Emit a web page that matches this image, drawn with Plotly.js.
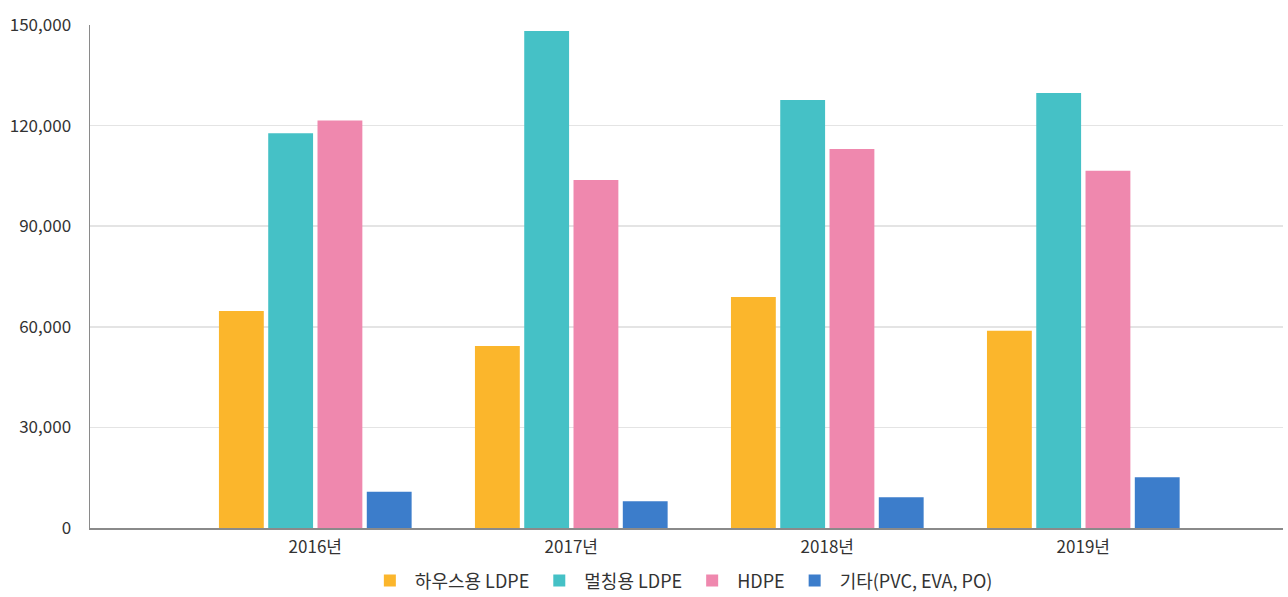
<!DOCTYPE html>
<html>
<head>
<meta charset="utf-8">
<script src="https://cdn.plot.ly/plotly-3.0.1.min.js"></script>
<style>html,body{margin:0;padding:0;background:#fff;}#chart{width:1288px;height:597px;}</style>
</head>
<body>
<div id="chart"></div>
<script>
const categories = ["2016년", "2017년", "2018년", "2019년"];
const seriesNames = ["하우스용 LDPE", "멀칭용 LDPE", "HDPE", "기타(PVC, EVA, PO)"];
const house = [64700, 54300, 68900, 58800];
const mulching = [117700, 148200, 127600, 129700];
const hdpe = [121500, 103800, 113000, 106500];
const others = [10800, 8000, 9200, 15100];
const yTicks = [0, 30000, 60000, 90000, 120000, 150000];
const yTickLabels = ["0", "30,000", "60,000", "90,000", "120,000", "150,000"];
const colors = ["#FBB62C", "#45C1C6", "#EF88AE", "#3C7DCB"];

const values = [house, mulching, hdpe, others];
const traces = values.map((v, i) => ({
  type: "bar",
  name: seriesNames[i],
  x: categories,
  y: v,
  marker: {color: colors[i]},
  hoverinfo: "x+y+name"
}));

const layout = {
  width: 1288,
  height: 597,
  margin: {l: 90, r: 5, t: 25, b: 69},
  paper_bgcolor: "#fff",
  plot_bgcolor: "#fff",
  font: {family: "Noto Sans CJK KR, Noto Sans, sans-serif", size: 17, color: "#333333"},
  barmode: "group",
  bargap: 0.23,
  bargroupgap: 0.09,
  showlegend: true,
  legend: {
    orientation: "h",
    xref: "container",
    yref: "container",
    x: 0.529, xanchor: "center",
    y: 0.027, yanchor: "middle",
    font: {size: 18, color: "#333333"},
    itemwidth: 40,
    traceorder: "normal"
  },
  xaxis: {
    type: "category",
    range: [-0.88, 3.78],
    automargin: false,
    showgrid: false,
    showline: true,
    linecolor: "#8a8a8a",
    linewidth: 1.5,
    ticks: "",
    ticklabelstandoff: 3,
    tickfont: {size: 17, color: "#333333"},
    fixedrange: true
  },
  yaxis: {
    range: [0, 150000],
    automargin: false,
    tickvals: yTicks,
    ticktext: yTickLabels,
    showgrid: true,
    gridcolor: "#e4e4e4",
    gridwidth: 1.5,
    showline: true,
    linecolor: "#8a8a8a",
    linewidth: 1.5,
    zeroline: false,
    ticks: "",
    ticklabelstandoff: 14,
    tickfont: {size: 17, color: "#333333"},
    fixedrange: true
  }
};

Plotly.newPlot("chart", traces, layout, {displayModeBar: false, staticPlot: true});
</script>
</body>
</html>
